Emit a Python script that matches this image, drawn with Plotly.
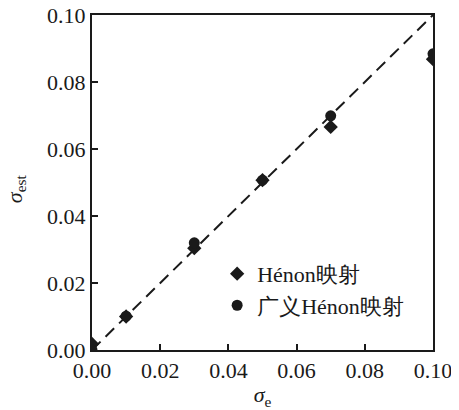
import plotly.graph_objects as go

sigma_e = [0.0, 0.01, 0.03, 0.05, 0.07, 0.10]
henon_est = [0.0018, 0.0100, 0.0304, 0.0507, 0.0666, 0.0868]
gen_henon_est = [0.0000, 0.0101, 0.0320, 0.0507, 0.0699, 0.0884]
ticks = [0.0, 0.02, 0.04, 0.06, 0.08, 0.10]
tick_text = ["0.00", "0.02", "0.04", "0.06", "0.08", "0.10"]
ref_line = [0.0, 0.10]

FONT = "Liberation Serif"
INK = "#1a1a1a"

fig = go.Figure()
fig.add_trace(go.Scatter(x=ref_line, y=ref_line, mode="lines",
                         line=dict(color=INK, width=2, dash="12px,7px"),
                         showlegend=False, hoverinfo="skip"))
fig.add_trace(go.Scatter(x=sigma_e, y=henon_est, mode="markers", name="Hénon映射",
                         marker=dict(symbol="diamond", size=11, color=INK)))
fig.add_trace(go.Scatter(x=sigma_e, y=gen_henon_est, mode="markers", name="广义Hénon映射",
                         marker=dict(symbol="circle", size=11, color=INK)))

axis_common = dict(range=[0, 0.10], tickvals=ticks, ticktext=tick_text,
                   ticks="inside", ticklen=6, tickwidth=1.5, tickcolor=INK,
                   showline=True, linecolor=INK, linewidth=2, mirror=True,
                   showgrid=False, zeroline=False, automargin=False,
                   ticklabeloverflow="allow",
                   tickfont=dict(family=FONT, size=22, color=INK))

# y-axis title placed as a rotated annotation to sit near the left edge
fig.add_annotation(text="<i>σ</i><sub>est</sub>", xref="paper", yref="paper",
                   x=0, y=0.48, xanchor="center", yanchor="middle",
                   xshift=-76, textangle=-90, showarrow=False,
                   font=dict(family=FONT, size=22, color=INK))

# page body has an 8px margin, so figure is shrunk by 8px
fig.update_layout(
    template="none",
    width=451, height=402,
    margin=dict(l=84, r=26, t=7, b=60),
    paper_bgcolor="white", plot_bgcolor="white",
    font=dict(family=FONT, size=22, color=INK),
    xaxis=dict(**axis_common, title=dict(text="<i>σ</i><sub>e</sub>", standoff=6,
                                        font=dict(family=FONT, size=22, color=INK))),
    yaxis=dict(**axis_common),
    legend=dict(x=0.367, y=0.29, xanchor="left", yanchor="top",
                bgcolor="rgba(0,0,0,0)", font=dict(family=FONT, size=22, color=INK),
                tracegroupgap=0),
)
fig.write_html("out.html")
